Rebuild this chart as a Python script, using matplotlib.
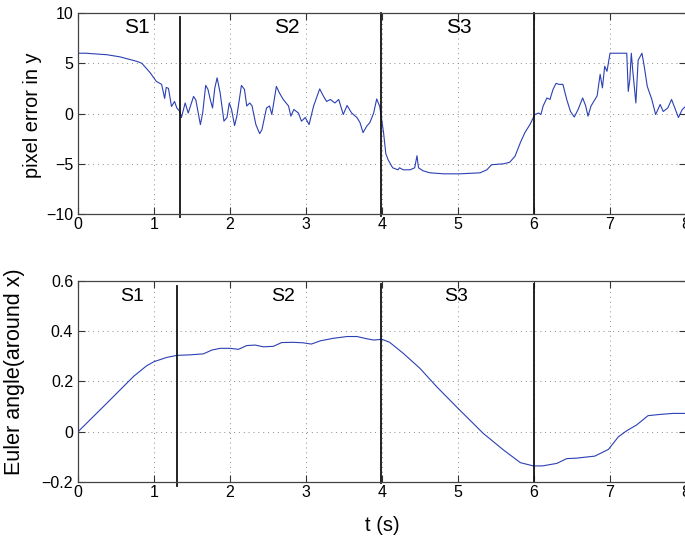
import matplotlib
matplotlib.use('Agg')
import matplotlib.pyplot as plt

# Ошибка в пикселях по оси y
t_err = [0, 0.1, 0.2, 0.3, 0.38, 0.55, 0.77, 0.84, 0.95, 1.03,
         1.10, 1.14, 1.16, 1.19, 1.23, 1.27, 1.30, 1.34, 1.36, 1.41,
         1.45, 1.52, 1.55, 1.61, 1.64, 1.68, 1.71, 1.74, 1.77, 1.80,
         1.83, 1.87, 1.92, 1.96, 1.99, 2.02, 2.06, 2.09, 2.15, 2.19,
         2.22, 2.26, 2.29, 2.34, 2.39, 2.42, 2.48, 2.52, 2.55, 2.61,
         2.65, 2.70, 2.77, 2.80, 2.84, 2.90, 2.94, 2.99, 3.04, 3.10,
         3.13, 3.18, 3.22, 3.27, 3.32, 3.38, 3.43, 3.49, 3.54, 3.60,
         3.67, 3.71, 3.75, 3.80, 3.84, 3.89, 3.93, 3.97, 4.02, 4.05,
         4.08, 4.14, 4.21, 4.23, 4.28, 4.37, 4.43, 4.46, 4.48, 4.54,
         4.63, 4.81, 5.03, 5.29, 5.38, 5.44, 5.60, 5.68, 5.75, 5.82,
         5.88, 5.95, 6.01, 6.06, 6.09, 6.12, 6.17, 6.21, 6.25, 6.29,
         6.33, 6.38, 6.43, 6.48, 6.53, 6.58, 6.64, 6.68, 6.71, 6.75,
         6.83, 6.87, 6.90, 6.93, 6.96, 7.00, 7.22, 7.24, 7.26, 7.28,
         7.30, 7.34, 7.37, 7.42, 7.45, 7.49, 7.55, 7.60, 7.66, 7.70,
         7.76, 7.81, 7.86, 7.90, 7.95, 8.00]
err = [6.0, 6.0, 5.95, 5.9, 5.85, 5.64, 5.2, 5.0, 4.05, 3.2,
       2.9, 1.5, 2.6, 2.5, 0.7, 1.2, 0.55, 0.2, -0.4, 1.05,
       0.05, 1.7, 1.35, -1.1, 0.05, 2.8, 2.4, 1.4, 0.55, 2.55,
       3.55, 2.05, -0.76, -0.4, 1.05, 0.4, -1.2, -0.26, 2.8, 2.4,
       0.75, 1.05, 0.75, -1.1, -2.0, -1.6, 0.55, 0.75, -0.1, 2.7,
       2.05, 1.4, 0.75, -0.26, 0.4, 0.05, -0.76, -0.4, -1.1, 0.75,
       1.4, 2.45, 1.85, 1.2, 1.4, 1.05, 1.4, -0.1, 0.8, 0.05,
       -0.4, -0.9, -1.9, -1.25, -0.9, 0.05, 1.45, 0.7, -1.9, -4.0,
       -4.6, -5.4, -5.6, -5.4, -5.6, -5.6, -5.4, -4.2, -5.4, -5.7,
       -5.9, -6.0, -6.0, -5.9, -5.6, -5.1, -5.0, -4.85, -4.25, -2.9,
       -1.9, -1.05, -0.1, 0.05, -0.1, 0.75, 1.55, 1.4, 2.4, 3.0,
       2.9, 2.9, 1.4, 0.2, -0.35, 0.4, 1.55, 0.75, -0.26, 0.75,
       1.75, 3.9, 2.55, 4.7, 4.2, 6.0, 6.0, 2.2, 3.35, 6.0,
       4.2, 1.05, 5.3, 6.0, 4.7, 2.7, 1.4, -0.1, 0.9, 0.2,
       0.55, 1.4, 0.4, -0.4, 0.4, 0.75]

# Угол Эйлера вокруг оси x
t_ang = [0, 0.42, 0.73, 0.90, 1.0, 1.17, 1.30, 1.47, 1.65, 1.76,
         1.87, 2.0, 2.11, 2.22, 2.33, 2.44, 2.57, 2.68, 2.83, 2.96,
         3.07, 3.19, 3.36, 3.54, 3.67, 3.80, 3.89, 4.00, 4.10, 4.28,
         4.50, 4.72, 5.00, 5.33, 5.60, 5.82, 5.99, 6.11, 6.30, 6.43,
         6.56, 6.74, 6.80, 6.98, 7.11, 7.22, 7.35, 7.50, 7.66, 7.83, 8.0]
ang = [0, 0.126, 0.22, 0.262, 0.279, 0.296, 0.304, 0.306, 0.31, 0.325,
       0.332, 0.332, 0.328, 0.343, 0.345, 0.338, 0.34, 0.355, 0.356, 0.354,
       0.349, 0.362, 0.372, 0.379, 0.379, 0.370, 0.365, 0.368, 0.356, 0.312,
       0.252, 0.179, 0.093, -0.006, -0.073, -0.123, -0.136, -0.136, -0.126, -0.107,
       -0.105, -0.099, -0.097, -0.07, -0.02, 0.004, 0.027, 0.064, 0.069, 0.073, 0.073]

# Границы этапов (t, низ, верх) и подписи этапов
bounds_err = [(1.34, -10.3, 9.65), (3.99, -10.2, 10.0), (6.0, -10.0, 10.0)]
bounds_ang = [(1.30, -0.216, 0.58), (3.99, -0.205, 0.59), (6.0, -0.2, 0.59)]
stage_names = ['S1', 'S2', 'S3']
stage_x_err = [0.78, 2.75, 5.01]
stage_x_ang = [0.71, 2.70, 4.97]

plt.rcParams['font.family'] = ['Liberation Sans', 'DejaVu Sans']

line_color = '#2b40b3'
grid_style = dict(color='#8a8a8a', linestyle=(0, (1, 4)), linewidth=0.7)


def style_axes(ax):
    ax.tick_params(direction='in', top=True, right=True, length=5,
                   labelsize=11.5, color='#333333', width=0.8)
    ax.tick_params(axis='x', pad=2.5)
    for s in ax.spines.values():
        s.set_color('#444444')
        s.set_linewidth(0.9)
    ax.grid(True, **grid_style)
    ax.set_axisbelow(True)


fig = plt.figure(figsize=(6.85, 5.38), dpi=100)

# Верхний график - ошибка в пикселях
ax1 = fig.add_axes([0.1139, 0.6022, 0.8876, 0.3736])
ax1.plot(t_err, err, color=line_color, linewidth=0.8)
for x, lo, hi in bounds_err:
    ax1.plot([x, x], [lo, hi], color='#111111', linewidth=1.3, clip_on=False)
for name, x in zip(stage_names, stage_x_err):
    ax1.text(x, 7.98, name, fontsize=15, ha='center', va='baseline')
ax1.set_xlim(0, 8)
ax1.set_ylim(-10, 10)
ax1.set_yticks([-10, -5, 0, 5, 10])
ax1.set_xticks(range(9))
ax1.set_ylabel('pixel error in y', fontsize=14.3)
ax1.yaxis.set_label_coords(-0.059, 0.4925)
style_axes(ax1)

# Нижний график - угол Эйлера
ax2 = fig.add_axes([0.1139, 0.1041, 0.8876, 0.3736])
ax2.plot(t_ang, ang, color=line_color, linewidth=0.8)
for x, lo, hi in bounds_ang:
    ax2.plot([x, x], [lo, hi], color='#111111', linewidth=1.3, clip_on=False)
for name, x in zip(stage_names, stage_x_ang):
    ax2.text(x, 0.52, name, fontsize=14, ha='center', va='baseline')
ax2.set_xlim(0, 8)
ax2.set_ylim(-0.2, 0.6)
ax2.set_yticks([-0.2, 0, 0.2, 0.4, 0.6])
ax2.set_yticklabels(['\u22120.2', '0', '0.2', '0.4', '0.6'])
ax2.set_xticks(range(9))
ax2.set_ylabel('Euler angle(around x)', fontsize=15.5)
ax2.yaxis.set_label_coords(-0.087, 0.547)
ax2.set_xlabel('t (s)', fontsize=14.5)
ax2.xaxis.set_label_coords(0.5, -0.168)
style_axes(ax2)

plt.savefig('out.png', dpi=100)
